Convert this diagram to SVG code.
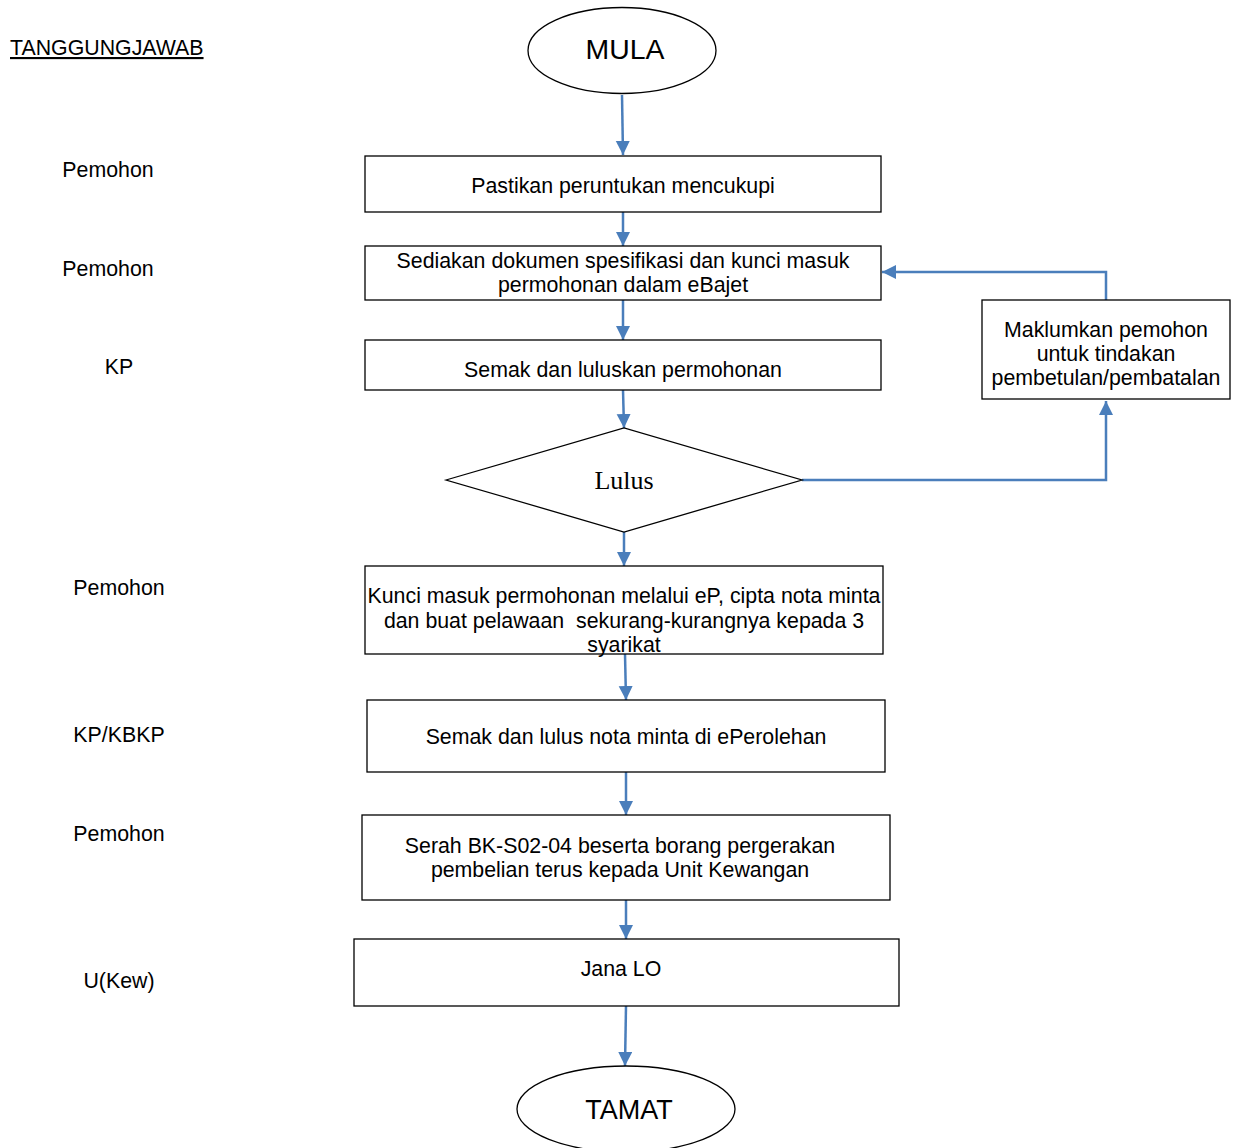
<svg xmlns="http://www.w3.org/2000/svg" width="1237" height="1148" viewBox="0 0 1237 1148">
<style>
.t{font-family:"Liberation Sans",Arial,sans-serif;font-size:21.33px;fill:#000;text-anchor:middle;white-space:pre}
.l{font-family:"Liberation Sans",Arial,sans-serif;font-size:21.33px;fill:#000;text-anchor:middle}
.b{fill:#fff;stroke:#000;stroke-width:1.3}
.c{fill:none;stroke:#4A7EBB;stroke-width:2.5}
</style>
<defs>
<marker id="ah" markerUnits="userSpaceOnUse" markerWidth="16" markerHeight="16" refX="14" refY="7" orient="auto">
<path d="M0,0 L14,7 L0,14 Z" fill="#4A7EBB"/>
</marker>
</defs>
<rect width="1237" height="1148" fill="#fff"/>
<g id="labels">
<text x="10" y="55" style="font-family:'Liberation Sans',Arial,sans-serif;font-size:21.33px;text-decoration:underline">TANGGUNGJAWAB</text>
<text class="l" x="108" y="177">Pemohon</text>
<text class="l" x="108" y="276">Pemohon</text>
<text class="l" x="119" y="374">KP</text>
<text class="l" x="119" y="595">Pemohon</text>
<text class="l" x="119" y="742">KP/KBKP</text>
<text class="l" x="119" y="841">Pemohon</text>
<text class="l" x="119" y="988">U(Kew)</text>
</g>
<g id="connectors">
<path class="c" d="M622,95 L623,155" marker-end="url(#ah)"/>
<path class="c" d="M623,212 L623,246" marker-end="url(#ah)"/>
<path class="c" d="M623,300 L623,340" marker-end="url(#ah)"/>
<path class="c" d="M623,390 L624,428" marker-end="url(#ah)"/>
<path class="c" d="M624,532 L624,566" marker-end="url(#ah)"/>
<path class="c" d="M625,654 L626,700" marker-end="url(#ah)"/>
<path class="c" d="M626,772 L626,815" marker-end="url(#ah)"/>
<path class="c" d="M626,900 L626,939" marker-end="url(#ah)"/>
<path class="c" d="M626,1006 L625,1066" marker-end="url(#ah)"/>
<path class="c" d="M802,480 L1106,480 L1106,401" marker-end="url(#ah)"/>
<path class="c" d="M1106,300 L1106,272 L882,272" marker-end="url(#ah)"/>
</g>
<g id="mula">
<ellipse class="b" cx="622" cy="50.5" rx="94" ry="43" stroke-width="2"/>
<text x="625" y="59" style="font-family:'Liberation Sans',Arial,sans-serif;font-size:28.4px;text-anchor:middle">MULA</text>
</g>
<g id="n1">
<rect class="b" x="365" y="156" width="516" height="56"/>
<text class="t" x="623" y="193">Pastikan peruntukan mencukupi</text>
</g>
<g id="n2">
<rect class="b" x="365" y="246" width="516" height="54"/>
<text class="t" x="623" y="268">Sediakan dokumen spesifikasi dan kunci masuk</text>
<text class="t" x="623" y="292">permohonan dalam eBajet</text>
</g>
<g id="n3">
<rect class="b" x="365" y="340" width="516" height="50"/>
<text class="t" x="623" y="377">Semak dan luluskan permohonan</text>
</g>
<g id="d1">
<polygon class="b" points="446,480 624,428 802,480 624,532" stroke-width="2"/>
<text x="624" y="489" style="font-family:'Liberation Serif','Times New Roman',serif;font-size:26px;text-anchor:middle">Lulus</text>
</g>
<g id="n4">
<rect class="b" x="365" y="566" width="518" height="88"/>
<text class="t" x="624" y="603">Kunci masuk permohonan melalui eP, cipta nota minta</text>
<text class="t" x="624" y="628" xml:space="preserve">dan buat pelawaan  sekurang-kurangnya kepada 3</text>
<text class="t" x="624" y="652">syarikat</text>
</g>
<g id="n5">
<rect class="b" x="367" y="700" width="518" height="72"/>
<text class="t" x="626" y="744">Semak dan lulus nota minta di ePerolehan</text>
</g>
<g id="n6">
<rect class="b" x="362" y="815" width="528" height="85"/>
<text class="t" x="620" y="853">Serah BK-S02-04 beserta borang pergerakan</text>
<text class="t" x="620" y="877">pembelian terus kepada Unit Kewangan</text>
</g>
<g id="n7">
<rect class="b" x="354" y="939" width="545" height="67"/>
<text class="t" x="621" y="976">Jana LO</text>
</g>
<g id="n8">
<rect class="b" x="982" y="300" width="248" height="99" stroke-width="2"/>
<text class="t" x="1106" y="337">Maklumkan pemohon</text>
<text class="t" x="1106" y="361">untuk tindakan</text>
<text class="t" x="1106" y="385">pembetulan/pembatalan</text>
</g>
<g id="tamat">
<ellipse class="b" cx="626" cy="1109" rx="109" ry="43" stroke-width="2"/>
<text x="629" y="1119" style="font-family:'Liberation Sans',Arial,sans-serif;font-size:27px;text-anchor:middle">TAMAT</text>
</g>
</svg>
